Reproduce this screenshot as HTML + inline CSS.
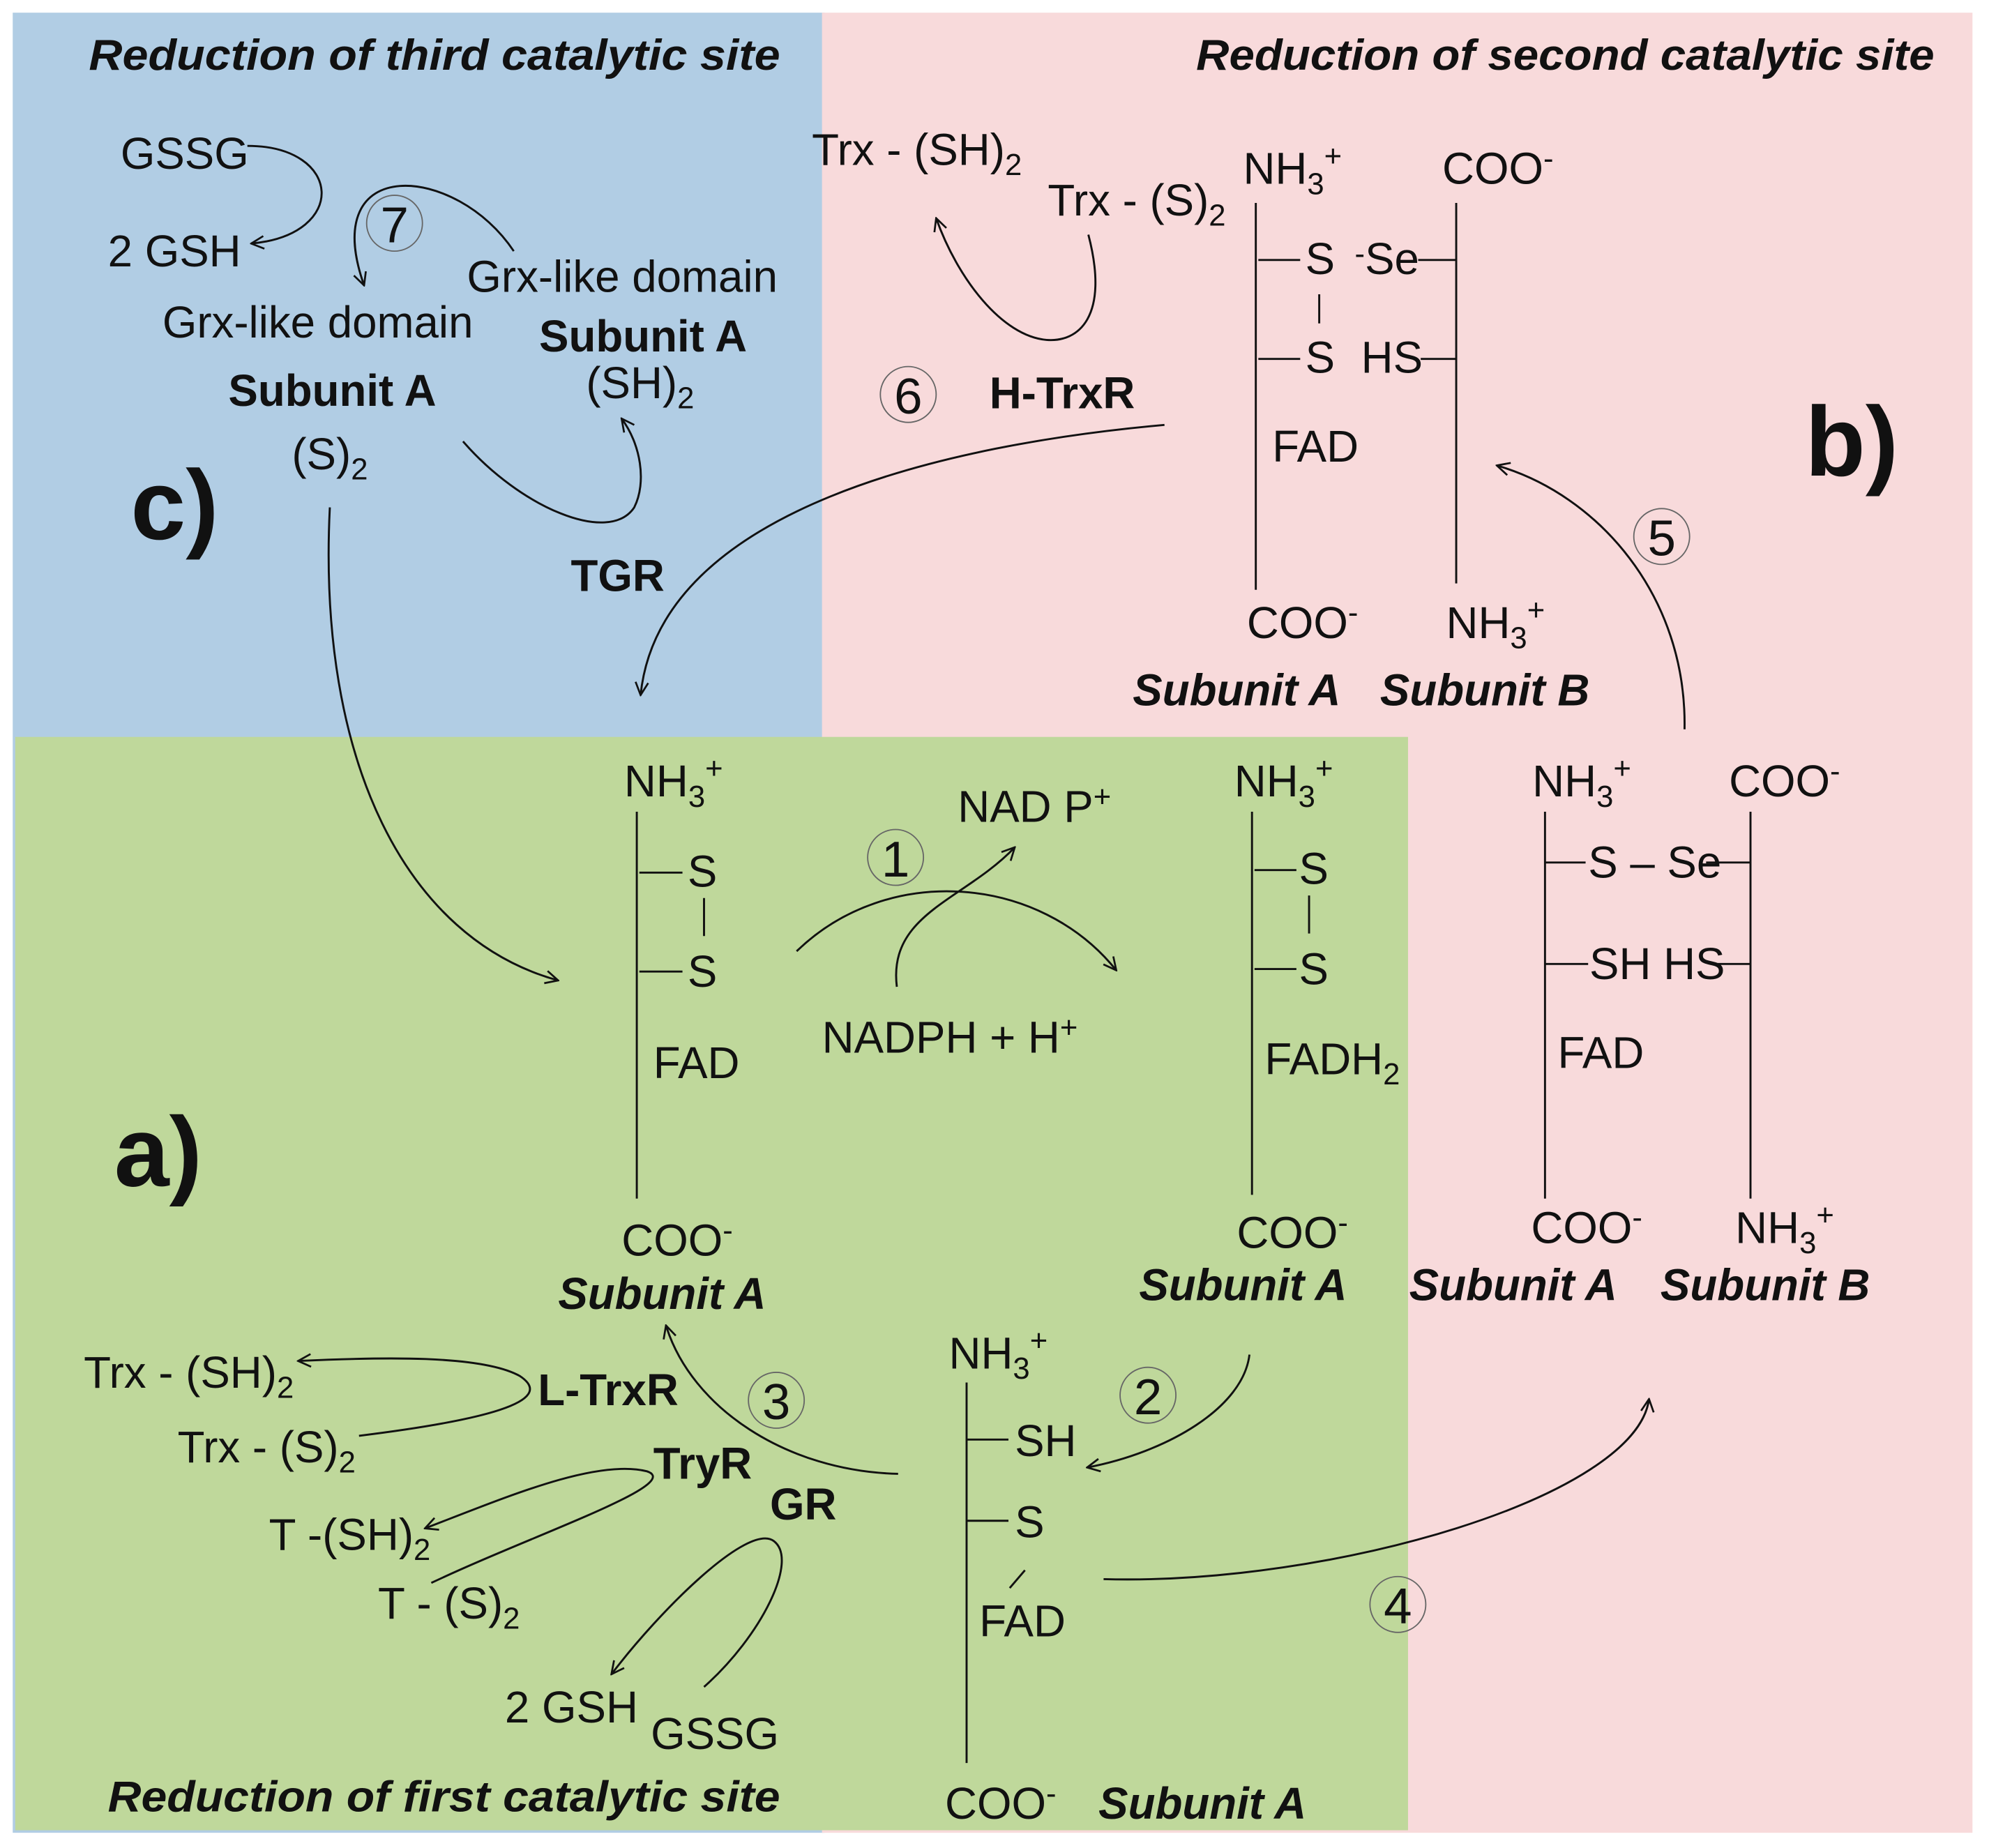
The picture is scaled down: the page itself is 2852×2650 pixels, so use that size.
<!DOCTYPE html>
<html><head><meta charset="utf-8"><style>
html,body{margin:0;padding:0;background:#fff;}
svg{display:block;}
text{font-family:"Liberation Sans",sans-serif;font-size:35px;fill:#111;}
.b{font-weight:bold;font-size:35px;}
.bi{font-weight:bold;font-style:italic;font-size:35px;}
.t{font-weight:bold;font-style:italic;font-size:34px;}
.big{font-weight:bold;font-size:78px;}
.n{font-size:40px;}
.s{font-size:24px;}
</style></head><body>
<svg width="2852" height="2650" viewBox="0 0 1568 1457" xmlns="http://www.w3.org/2000/svg">
<defs>
<marker id="a" viewBox="0 0 12 12" refX="11" refY="6" markerWidth="12" markerHeight="12" markerUnits="userSpaceOnUse" orient="auto">
<path d="M1,1 L11,6 L1,11" fill="none" stroke="#111" stroke-width="1.5"/></marker>
</defs>
<rect x="0" y="0" width="1568" height="1457" fill="#fff"/>
<rect x="10" y="10" width="640" height="1435" fill="#b1cde4"/>
<rect x="648" y="10" width="907" height="1435" fill="#f8dadb"/>
<rect x="12" y="581" width="1098" height="862" fill="#bfd89b"/>

<g fill="none" stroke="#111" stroke-width="1.6">
<path d="M195,115 C270,115 275,185 198,192" marker-end="url(#a)"/>
<path d="M405,198 C360,130 250,120 287,225" marker-end="url(#a)"/>
<path d="M365,348 C410,400 480,430 500,400 C510,380 505,350 490,330" marker-end="url(#a)"/>
<path d="M260,400 C250,600 320,740 440,773" marker-end="url(#a)"/>
<path d="M858,185 C875,250 850,270 825,268 C790,265 755,220 738,172" marker-end="url(#a)"/>
<path d="M918,335 C750,350 520,400 505,548" marker-end="url(#a)"/>
<path d="M1328,575 C1330,470 1260,390 1180,367" marker-end="url(#a)"/>
<path d="M628,750 C700,680 820,690 880,765" marker-end="url(#a)"/>
<path d="M707,778 C700,720 760,710 800,668" marker-end="url(#a)"/>
<path d="M985,1068 C980,1110 920,1145 857,1157" marker-end="url(#a)"/>
<path d="M708,1162 C620,1160 545,1110 525,1045" marker-end="url(#a)"/>
<path d="M870,1245 C1050,1250 1290,1180 1300,1103" marker-end="url(#a)"/>
<path d="M283,1132 C380,1120 440,1105 410,1085 C380,1068 300,1070 235,1073" marker-end="url(#a)"/>
<path d="M340,1248 C420,1210 540,1170 510,1160 C470,1150 400,1180 335,1205" marker-end="url(#a)"/>
<path d="M555,1330 C600,1290 630,1230 610,1215 C590,1200 520,1270 482,1320" marker-end="url(#a)"/>
<path d="M990,160 V465 M1148,160 V460 M992,205 H1025 M992,283 H1025 M1040,232 V255 M1118,205 H1148 M1120,283 H1148"/>
<path d="M1218,640 V945 M1380,640 V945 M1218,680 H1250 M1345,680 H1380 M1218,760 H1252 M1350,760 H1380"/>
<path d="M502,640 V945 M504,688 H538 M504,766 H538 M555,708 V738"/>
<path d="M987,640 V942 M989,686 H1022 M989,764 H1022 M1032,706 V736"/>
<path d="M762,1090 V1390 M762,1135 H795 M762,1199 H795"/>
<path d="M808,1238 L796,1252" />
<circle cx="311" cy="176" r="22" stroke="#666" stroke-width="1"/>
<circle cx="716" cy="311" r="22" stroke="#666" stroke-width="1"/>
<circle cx="1310" cy="423" r="22" stroke="#666" stroke-width="1"/>
<circle cx="706" cy="676" r="22" stroke="#666" stroke-width="1"/>
<circle cx="905" cy="1100" r="22" stroke="#666" stroke-width="1"/>
<circle cx="612" cy="1104" r="22" stroke="#666" stroke-width="1"/>
<circle cx="1102" cy="1265" r="22" stroke="#666" stroke-width="1"/>
</g>

<g text-anchor="middle">
<text x="311" y="191" class="n">7</text>
<text x="716" y="326" class="n">6</text>
<text x="1310" y="438" class="n">5</text>
<text x="706" y="691" class="n">1</text>
<text x="905" y="1115" class="n">2</text>
<text x="612" y="1119" class="n">3</text>
<text x="1102" y="1280" class="n">4</text>
</g>

<text x="70" y="55" class="t" textLength="545" lengthAdjust="spacingAndGlyphs">Reduction of third catalytic site</text>
<text x="943" y="55" class="t" textLength="582" lengthAdjust="spacingAndGlyphs">Reduction of second catalytic site</text>
<text x="85" y="1428" class="t" textLength="530" lengthAdjust="spacingAndGlyphs">Reduction of first catalytic site</text>

<text x="95" y="133">GSSG</text>
<text x="85" y="210">2 GSH</text>
<text x="368" y="230">Grx-like domain</text>
<text x="128" y="266">Grx-like domain</text>
<text x="425" y="277" class="b">Subunit A</text>
<text x="180" y="320" class="b">Subunit A</text>
<text x="462" y="314">(SH)<tspan class="s" dy="8">2</tspan></text>
<text x="230" y="370">(S)<tspan class="s" dy="8">2</tspan></text>
<text x="450" y="466" class="b">TGR</text>
<text x="103" y="425" class="big">c)</text>

<text x="640" y="130">Trx - (SH)<tspan class="s" dy="8">2</tspan></text>
<text x="826" y="170">Trx - (S)<tspan class="s" dy="8">2</tspan></text>
<text x="980" y="145">NH<tspan class="s" dy="8">3</tspan><tspan class="s" dy="-22">+</tspan></text>
<text x="1137" y="145">COO<tspan class="s" dy="-12">-</tspan></text>
<text x="1029" y="216">S</text>
<text x="1068" y="216"><tspan class="s" dy="-8">-</tspan><tspan dy="8">Se</tspan></text>
<text x="1029" y="294">S</text>
<text x="1073" y="294">HS</text>
<text x="1003" y="364">FAD</text>
<text x="983" y="503">COO<tspan class="s" dy="-12">-</tspan></text>
<text x="1140" y="503">NH<tspan class="s" dy="8">3</tspan><tspan class="s" dy="-22">+</tspan></text>
<text x="893" y="556" class="bi">Subunit A</text>
<text x="1088" y="556" class="bi">Subunit B</text>
<text x="780" y="322" class="b">H-TrxR</text>
<text x="1423" y="375" class="big">b)</text>

<text x="1208" y="628">NH<tspan class="s" dy="8">3</tspan><tspan class="s" dy="-22">+</tspan></text>
<text x="1363" y="628">COO<tspan class="s" dy="-12">-</tspan></text>
<text x="1252" y="692">S – Se</text>
<text x="1253" y="772">SH HS</text>
<text x="1228" y="842">FAD</text>
<text x="1207" y="980">COO<tspan class="s" dy="-12">-</tspan></text>
<text x="1368" y="980">NH<tspan class="s" dy="8">3</tspan><tspan class="s" dy="-22">+</tspan></text>
<text x="1111" y="1025" class="bi">Subunit A</text>
<text x="1309" y="1025" class="bi">Subunit B</text>

<text x="492" y="628">NH<tspan class="s" dy="8">3</tspan><tspan class="s" dy="-22">+</tspan></text>
<text x="542" y="699">S</text>
<text x="542" y="778">S</text>
<text x="515" y="850">FAD</text>
<text x="490" y="990">COO<tspan class="s" dy="-12">-</tspan></text>
<text x="440" y="1032" class="bi">Subunit A</text>
<text x="755" y="648">NAD P<tspan class="s" dy="-12">+</tspan></text>
<text x="648" y="830">NADPH + H<tspan class="s" dy="-12">+</tspan></text>
<text x="973" y="628">NH<tspan class="s" dy="8">3</tspan><tspan class="s" dy="-22">+</tspan></text>
<text x="1024" y="697">S</text>
<text x="1024" y="776">S</text>
<text x="997" y="847">FADH<tspan class="s" dy="8">2</tspan></text>
<text x="975" y="984">COO<tspan class="s" dy="-12">-</tspan></text>
<text x="898" y="1025" class="bi">Subunit A</text>
<text x="748" y="1079">NH<tspan class="s" dy="8">3</tspan><tspan class="s" dy="-22">+</tspan></text>
<text x="800" y="1148">SH</text>
<text x="800" y="1212">S</text>
<text x="772" y="1290">FAD</text>
<text x="745" y="1434">COO<tspan class="s" dy="-12">-</tspan></text>
<text x="866" y="1434" class="bi">Subunit A</text>
<text x="90" y="935" class="big">a)</text>
<text x="66" y="1094">Trx - (SH)<tspan class="s" dy="8">2</tspan></text>
<text x="424" y="1108" class="b">L-TrxR</text>
<text x="140" y="1153">Trx - (S)<tspan class="s" dy="8">2</tspan></text>
<text x="515" y="1166" class="b">TryR</text>
<text x="212" y="1222">T -(SH)<tspan class="s" dy="8">2</tspan></text>
<text x="607" y="1198" class="b">GR</text>
<text x="298" y="1276">T - (S)<tspan class="s" dy="8">2</tspan></text>
<text x="398" y="1358">2 GSH</text>
<text x="513" y="1379">GSSG</text>
</svg>
</body></html>
